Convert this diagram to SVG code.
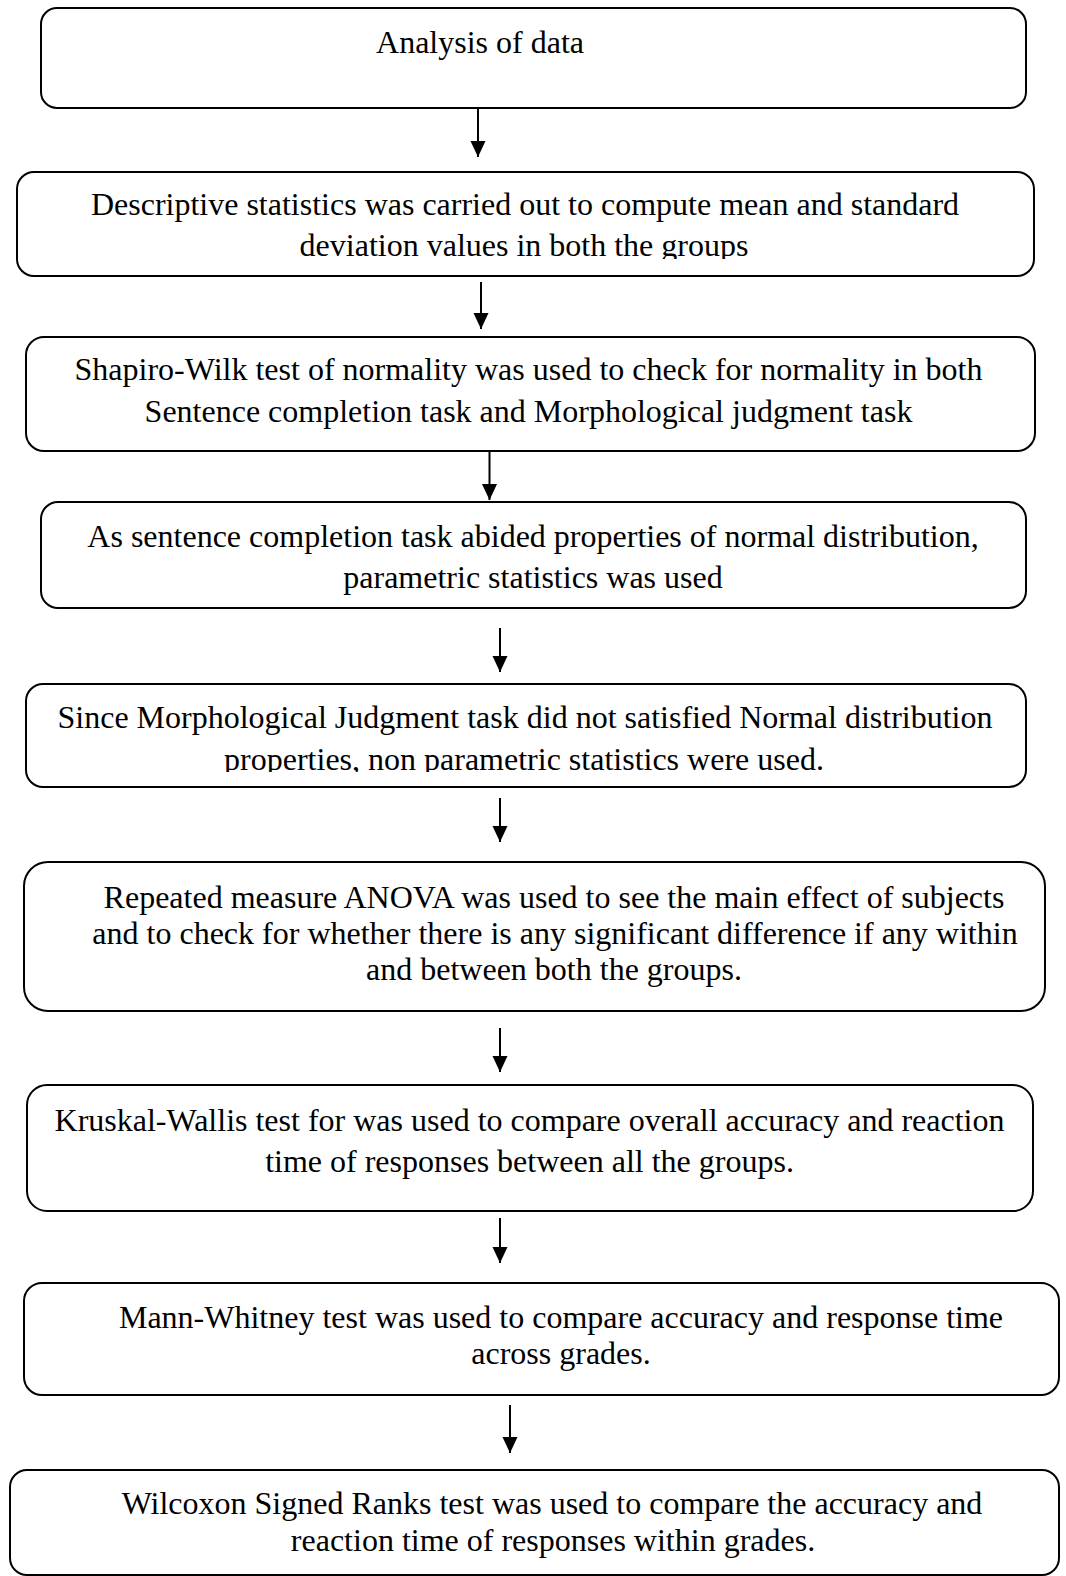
<svg xmlns="http://www.w3.org/2000/svg" width="1066" height="1576" viewBox="0 0 1066 1576">
<style>
  .box { fill: #ffffff; stroke: #000000; stroke-width: 2; }
  .lbl { font-family: "Liberation Serif", "Times New Roman", serif; font-size: 32px; fill: #000000; text-anchor: middle; }
  .conn { stroke: #000000; stroke-width: 2; fill: none; }
</style>
<defs>
  <marker id="arrow" markerWidth="16" markerHeight="17" viewBox="0 0 17 16" refX="17" refY="8" orient="auto" markerUnits="userSpaceOnUse">
    <path d="M0,0 L17,8 L0,16 Z" fill="#000000"/>
  </marker>
  <clipPath id="clip2"><rect x="0" y="0" width="1066" height="259"/></clipPath>
  <clipPath id="clip5"><rect x="0" y="0" width="1066" height="772"/></clipPath>
</defs>
<rect x="0" y="0" width="1066" height="1576" fill="#ffffff"/>

<g id="connectors">
  <line class="conn" x1="478" y1="108" x2="478" y2="157" marker-end="url(#arrow)"/>
  <line class="conn" x1="481" y1="282" x2="481" y2="329" marker-end="url(#arrow)"/>
  <line class="conn" x1="489.5" y1="452" x2="489.5" y2="500" marker-end="url(#arrow)"/>
  <line class="conn" x1="500" y1="628" x2="500" y2="672" marker-end="url(#arrow)"/>
  <line class="conn" x1="500" y1="798" x2="500" y2="842" marker-end="url(#arrow)"/>
  <line class="conn" x1="500" y1="1028" x2="500" y2="1072" marker-end="url(#arrow)"/>
  <line class="conn" x1="500" y1="1218" x2="500" y2="1263" marker-end="url(#arrow)"/>
  <line class="conn" x1="510" y1="1405" x2="510" y2="1453" marker-end="url(#arrow)"/>
</g>

<g id="node1">
  <rect class="box" x="41" y="8" width="985" height="100" rx="16" ry="16"/>
  <text class="lbl" x="480" y="53">Analysis of data</text>
</g>

<g id="node2">
  <rect class="box" x="17" y="172" width="1017" height="104" rx="17" ry="17"/>
  <text class="lbl" x="525" y="215">Descriptive statistics was carried out to compute mean and standard</text>
  <text class="lbl" x="524" y="256" clip-path="url(#clip2)">deviation values in both the groups</text>
</g>

<g id="node3">
  <rect class="box" x="26" y="337" width="1009" height="114" rx="18" ry="18"/>
  <text class="lbl" x="528.5" y="380">Shapiro-Wilk test of normality was used to check for normality in both</text>
  <text class="lbl" x="528.5" y="422">Sentence completion task and Morphological judgment task</text>
</g>

<g id="node4">
  <rect class="box" x="41" y="502" width="985" height="106" rx="17" ry="17"/>
  <text class="lbl" x="533" y="547">As sentence completion task abided properties of normal distribution,</text>
  <text class="lbl" x="533" y="588">parametric statistics was used</text>
</g>

<g id="node5">
  <rect class="box" x="26" y="684" width="1000" height="103" rx="17" ry="17"/>
  <text class="lbl" x="525" y="728">Since Morphological Judgment task did not satisfied Normal distribution</text>
  <text class="lbl" x="524" y="770" clip-path="url(#clip5)">properties, non parametric statistics were used.</text>
</g>

<g id="node6">
  <rect class="box" x="24" y="862" width="1021" height="149" rx="24" ry="24"/>
  <text class="lbl" x="554" y="908">Repeated measure ANOVA was used to see the main effect of subjects</text>
  <text class="lbl" x="555" y="944">and to check for whether there is any significant difference if any within</text>
  <text class="lbl" x="554" y="980">and between both the groups.</text>
</g>

<g id="node7">
  <rect class="box" x="27" y="1085" width="1006" height="126" rx="20" ry="20"/>
  <text class="lbl" x="529.5" y="1131">Kruskal-Wallis test for was used to compare overall accuracy and reaction</text>
  <text class="lbl" x="529.5" y="1172">time of responses between all the groups.</text>
</g>

<g id="node8">
  <rect class="box" x="24" y="1283" width="1035" height="112" rx="18" ry="18"/>
  <text class="lbl" x="561" y="1328">Mann-Whitney test was used to compare accuracy and response time</text>
  <text class="lbl" x="561" y="1364">across grades.</text>
</g>

<g id="node9">
  <rect class="box" x="10" y="1470" width="1049" height="105" rx="17" ry="17"/>
  <text class="lbl" x="552" y="1514">Wilcoxon Signed Ranks test was used to compare the accuracy and</text>
  <text class="lbl" x="553" y="1551">reaction time of responses within grades.</text>
</g>
</svg>
